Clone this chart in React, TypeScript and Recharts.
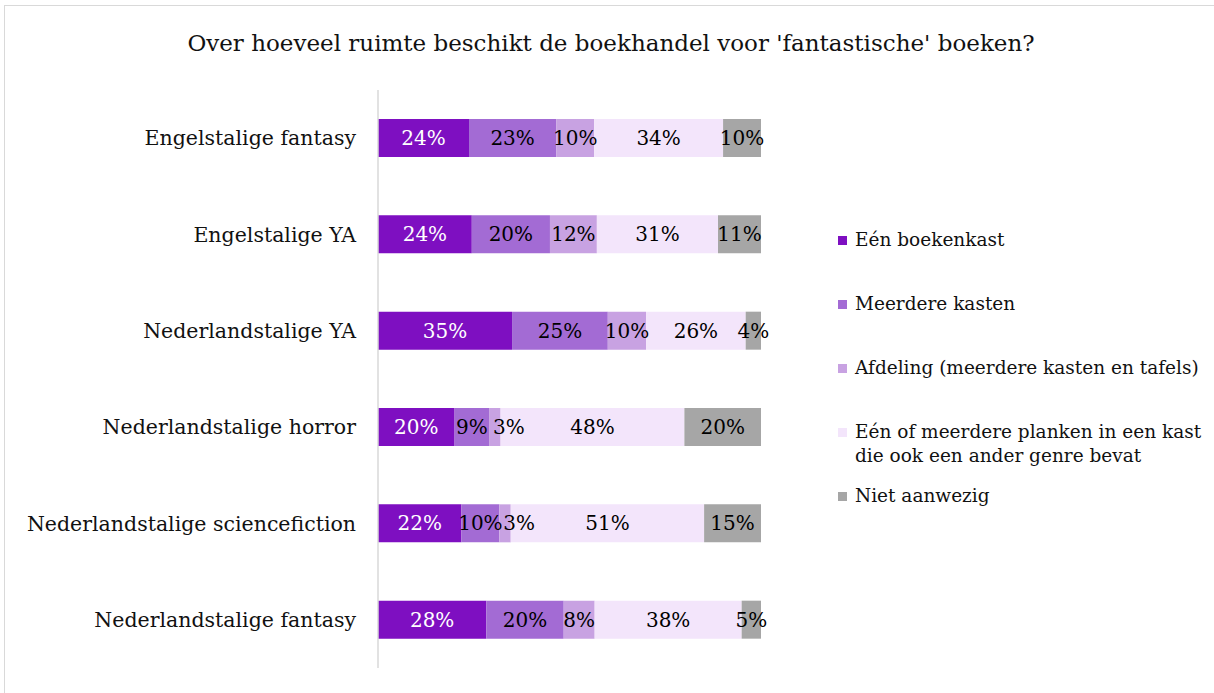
import React from "react";
import { BarChart, Bar, XAxis, YAxis, LabelList } from "recharts";

const categories = [
  "Engelstalige fantasy",
  "Engelstalige YA",
  "Nederlandstalige YA",
  "Nederlandstalige horror",
  "Nederlandstalige sciencefiction",
  "Nederlandstalige fantasy",
];

const seriesNames = [
  "Eén boekenkast",
  "Meerdere kasten",
  "Afdeling (meerdere kasten en tafels)",
  "Eén of meerdere planken in een kast die ook een ander genre bevat",
  "Niet aanwezig",
];

const seriesColors = ["#7e0fc1", "#a36bd4", "#c8a2e2", "#f3e5fb", "#a6a6a6"];
const labelColors = ["#ffffff", "#000000", "#000000", "#000000", "#000000"];

const eenBoekenkast = [24, 24, 35, 20, 22, 28];
const meerdereKasten = [23, 20, 25, 9, 10, 20];
const afdeling = [10, 12, 10, 3, 3, 8];
const planken = [34, 31, 26, 48, 51, 38];
const nietAanwezig = [10, 11, 4, 20, 15, 5];

const seriesValues = [eenBoekenkast, meerdereKasten, afdeling, planken, nietAanwezig];
const keys = ["s0", "s1", "s2", "s3", "s4"];

const data = categories.map((name, i) => {
  const row: Record<string, string | number> = { name };
  keys.forEach((k, s) => {
    row[k] = seriesValues[s][i];
  });
  return row;
});

const FONT = "'DejaVu Serif', Georgia, serif";

// centred label; very thin segments get a label that starts at the segment edge
const makeLabel = (s: number) => (props: any) => {
  const { x, y, width, height, value } = props;
  const thin = width < 15 && s < keys.length - 1;
  return (
    <text
      x={thin ? x + 4 : x + width / 2}
      y={y + height / 2}
      textAnchor={thin ? "start" : "middle"}
      dominantBaseline="central"
      fill={labelColors[s]}
      style={{ fontFamily: FONT, fontSize: 20 }}
    >
      {`${value}%`}
    </text>
  );
};

function ChartLegend() {
  return (
    <div
      style={{
        position: "absolute",
        left: 838,
        top: 228,
        fontFamily: FONT,
        fontSize: 18.5,
        color: "#111",
      }}
    >
      {seriesNames.map((name, i) => (
        <div
          key={name}
          style={{ display: "flex", alignItems: "flex-start", height: 64 }}
        >
          <span
            style={{
              width: 9,
              height: 9,
              background: seriesColors[i],
              marginTop: 8,
              marginRight: 8,
              flexShrink: 0,
            }}
          />
          <span style={{ width: 362, lineHeight: "24px" }}>{name}</span>
        </div>
      ))}
    </div>
  );
}

export default function App() {
  return (
    <div
      style={{
        position: "absolute",
        left: 0,
        top: 0,
        width: 1214,
        height: 693,
        background: "#fff",
        overflow: "hidden",
      }}
    >
      <div
        style={{
          position: "absolute",
          left: 4,
          top: 5,
          width: 1220,
          height: 700,
          border: "1px solid #d9d9d9",
        }}
      />
      <div
        style={{
          position: "absolute",
          left: 0,
          top: 30,
          width: 1222,
          textAlign: "center",
          fontFamily: FONT,
          fontSize: 23,
          color: "#111",
        }}
      >
        Over hoeveel ruimte beschikt de boekhandel voor 'fantastische' boeken?
      </div>
      <div style={{ position: "absolute", left: 0, top: 0 }}>
        <BarChart
          width={1214}
          height={693}
          data={data}
          layout="vertical"
          stackOffset="expand"
          barSize={38}
          margin={{ top: 90, right: 453, bottom: 25, left: 8 }}
        >
          <XAxis type="number" hide domain={[0, 1]} />
          <YAxis
            type="category"
            dataKey="name"
            width={370}
            tickLine={false}
            tickMargin={16}
            axisLine={{ stroke: "#d9d9d9", strokeWidth: 1.5 }}
            tick={{ fill: "#111", fontFamily: FONT, fontSize: 20.5 }}
            interval={0}
          />
          {keys.map((k, s) => (
            <Bar
              key={k}
              dataKey={k}
              name={seriesNames[s]}
              stackId="a"
              fill={seriesColors[s]}
              isAnimationActive={false}
            >
              <LabelList dataKey={k} content={makeLabel(s)} />
            </Bar>
          ))}
        </BarChart>
      </div>
      <ChartLegend />
    </div>
  );
}
